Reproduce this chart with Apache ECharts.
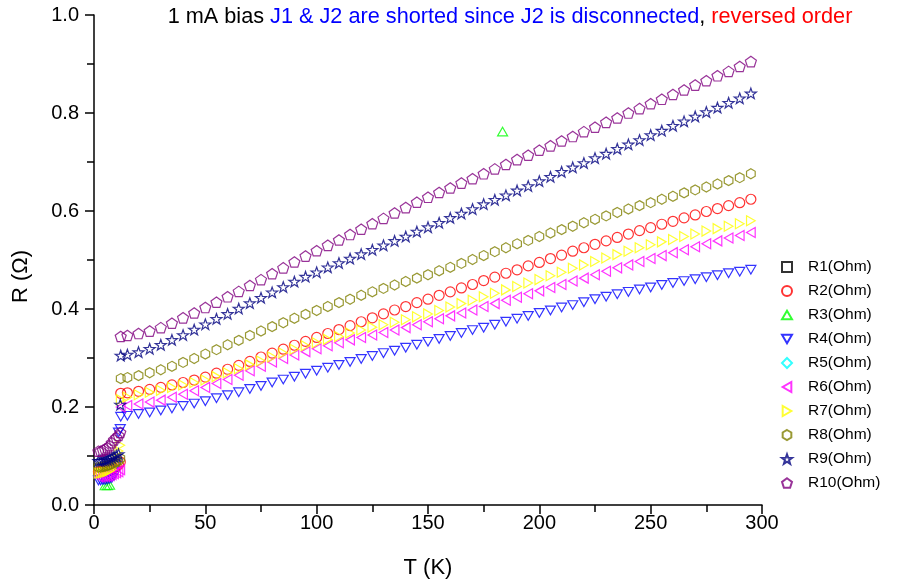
<!DOCTYPE html>
<html><head><meta charset="utf-8">
<script src="https://cdn.jsdelivr.net/npm/echarts@6/dist/echarts.min.js"></script>
<style>html,body{margin:0;padding:0;background:#fff}#c{width:906px;height:584px}</style>
</head><body><div id="c"></div>
<script>
// Temperatures (K)
const tLow = [2,3,4,5,6,7,8,9,10,11,11.8];
const tHigh = [12,15,20,25,30,35,40,45,50,55,60,65,70,75,80,85,90,95,100,105,110,115,120,125,130,135,140,145,150,155,160,165,170,175,180,185,190,195,200,205,210,215,220,225,230,235,240,245,250,255,260,265,270,275,280,285,290,295];

// Resistance values (Ohm)
const r10Low = [0.110,0.110,0.112,0.114,0.117,0.121,0.127,0.133,0.138,0.142,0.148];
const r10High = [0.344,0.346,0.350,0.355,0.362,0.371,0.382,0.392,0.403,0.414,0.425,0.436,0.448,0.460,0.472,0.484,0.496,0.508,0.519,0.530,0.541,0.552,0.563,0.574,0.585,0.596,0.607,0.618,0.628,0.638,0.647,0.657,0.666,0.676,0.686,0.695,0.705,0.714,0.724,0.733,0.743,0.752,0.762,0.771,0.781,0.790,0.800,0.809,0.819,0.828,0.838,0.847,0.857,0.866,0.876,0.885,0.895,0.905];
const r9Low = [0.090,0.090,0.091,0.092,0.093,0.095,0.097,0.099,0.101,0.104,0.205];
const r9High = [0.305,0.307,0.312,0.319,0.327,0.337,0.347,0.358,0.369,0.380,0.390,0.401,0.412,0.423,0.434,0.445,0.456,0.466,0.475,0.485,0.494,0.503,0.512,0.521,0.530,0.539,0.548,0.558,0.567,0.576,0.586,0.595,0.604,0.614,0.623,0.632,0.642,0.651,0.661,0.670,0.680,0.689,0.698,0.708,0.717,0.727,0.736,0.745,0.755,0.764,0.774,0.783,0.793,0.802,0.811,0.821,0.830,0.840];
const r8Low = [0.077,0.077,0.078,0.079,0.080,0.082,0.084,0.086,0.088,0.090,0.095];
const r8High = [0.258,0.260,0.264,0.270,0.276,0.283,0.291,0.299,0.308,0.317,0.327,0.336,0.346,0.355,0.364,0.372,0.381,0.389,0.397,0.405,0.413,0.420,0.428,0.435,0.442,0.449,0.456,0.463,0.470,0.478,0.485,0.493,0.501,0.509,0.517,0.525,0.533,0.540,0.548,0.555,0.562,0.569,0.576,0.583,0.590,0.597,0.604,0.611,0.617,0.624,0.630,0.637,0.643,0.649,0.655,0.662,0.668,0.676];
const r2Low = [0.068,0.068,0.069,0.070,0.071,0.072,0.074,0.076,0.079,0.082,0.088];
const r2High = [0.228,0.229,0.232,0.236,0.240,0.245,0.250,0.255,0.261,0.269,0.277,0.285,0.293,0.302,0.310,0.318,0.326,0.334,0.342,0.350,0.358,0.366,0.374,0.382,0.390,0.398,0.405,0.413,0.420,0.428,0.435,0.443,0.450,0.458,0.465,0.473,0.480,0.488,0.495,0.503,0.510,0.518,0.525,0.532,0.539,0.546,0.553,0.560,0.566,0.573,0.579,0.586,0.592,0.599,0.605,0.611,0.617,0.624];
const r7Low = [0.065,0.065,0.066,0.067,0.068,0.070,0.073,0.080,0.095,0.110,0.122];
const r7High = [0.215,0.220,0.225,0.230,0.234,0.240,0.245,0.250,0.255,0.262,0.270,0.278,0.286,0.294,0.302,0.310,0.318,0.325,0.331,0.338,0.344,0.351,0.357,0.363,0.368,0.373,0.378,0.384,0.390,0.397,0.404,0.411,0.418,0.425,0.432,0.439,0.446,0.453,0.460,0.468,0.475,0.483,0.490,0.497,0.504,0.511,0.518,0.525,0.531,0.537,0.542,0.548,0.553,0.559,0.564,0.569,0.574,0.580];
const r6Low = [0.057,0.057,0.058,0.058,0.059,0.060,0.062,0.064,0.066,0.068,0.072];
const r6High = [0.200,0.203,0.206,0.210,0.214,0.220,0.226,0.233,0.240,0.248,0.256,0.265,0.274,0.283,0.292,0.299,0.306,0.313,0.319,0.325,0.331,0.337,0.342,0.347,0.352,0.357,0.362,0.368,0.374,0.380,0.386,0.392,0.398,0.405,0.411,0.418,0.424,0.431,0.437,0.444,0.450,0.457,0.463,0.470,0.477,0.484,0.490,0.497,0.503,0.509,0.515,0.521,0.527,0.533,0.539,0.545,0.550,0.556];
const r4Low = [0.050,0.050,0.051,0.051,0.052,0.053,0.055,0.060,0.080,0.148,0.155];
const r4High = [0.180,0.182,0.186,0.189,0.193,0.197,0.202,0.207,0.212,0.218,0.224,0.230,0.237,0.243,0.250,0.256,0.262,0.268,0.274,0.280,0.286,0.292,0.298,0.304,0.310,0.315,0.321,0.327,0.333,0.339,0.345,0.351,0.357,0.362,0.368,0.374,0.380,0.386,0.392,0.397,0.403,0.408,0.414,0.420,0.425,0.430,0.435,0.440,0.444,0.449,0.453,0.457,0.461,0.465,0.469,0.473,0.476,0.480];
const r3T = [5,6,7,183.5];
const r3R = [0.040,0.040,0.041,0.762];

const names = ['R1(Ohm)','R2(Ohm)','R3(Ohm)','R4(Ohm)','R5(Ohm)','R6(Ohm)','R7(Ohm)','R8(Ohm)','R9(Ohm)','R10(Ohm)'];
const xTicks = {min:0, max:300, interval:50};
const yTicks = {min:0, max:1, interval:0.2};

function pairs(t, r){ return t.map((v,i)=>[v, r[i]]); }
function both(lo, hi){ return pairs(tLow, lo).concat(pairs(tHigh, hi)); }

const UP = 'path://M0,-8.66 L10,8.66 L-10,8.66 Z';
const DOWN = 'path://M-10,-8.66 L10,-8.66 L0,8.66 Z';
const LEFT = 'path://M8.66,-10 L8.66,10 L-8.66,0 Z';
const RIGHT = 'path://M-8.66,-10 L-8.66,10 L8.66,0 Z';
const HEX = 'path://M0,-10 L8.66,-5 L8.66,5 L0,10 L-8.66,5 L-8.66,-5 Z';
const STAR = 'path://M0,-10 L2.35,-3.24 L9.51,-3.09 L3.80,1.24 L5.88,8.09 L0,4 L-5.88,8.09 L-3.80,1.24 L-9.51,-3.09 L-2.35,-3.24 Z';
const PENT = 'path://M0,-10 L9.51,-3.09 L5.88,8.09 L-5.88,8.09 L-9.51,-3.09 Z';

const styles = [
  {c:'#000000', s:'rect', size:9, data:[]},
  {c:'#ff0000', s:'circle', size:10, data:both(r2Low, r2High)},
  {c:'#00ff00', s:UP, size:10, data:pairs(r3T, r3R)},
  {c:'#0000ff', s:DOWN, size:10, data:both(r4Low, r4High)},
  {c:'#00ffff', s:'diamond', size:11, data:[]},
  {c:'#ff00ff', s:LEFT, size:10, data:both(r6Low, r6High)},
  {c:'#ffff00', s:RIGHT, size:10, data:both(r7Low, r7High)},
  {c:'#808000', s:HEX, size:10, data:both(r8Low, r8High)},
  {c:'#000080', s:STAR, size:11, data:both(r9Low, r9High)},
  {c:'#800080', s:PENT, size:11, data:both(r10Low, r10High)}
];

const FONT = 'Liberation Sans, Arial, sans-serif';
const chart = echarts.init(document.getElementById('c'), null, {renderer:'canvas'});
chart.setOption({
  animation:false,
  backgroundColor:'#fff',
  title:{
    text:'{k|1 mA bias }{b|J1 & J2 are shorted since J2 is disconnected}{k|, }{r|reversed order}',
    left:505, top:1, textAlign:'center',
    textStyle:{fontFamily:FONT, fontWeight:'normal', fontSize:21.7,
      rich:{k:{color:'#000',fontSize:21.7,fontFamily:FONT},b:{color:'#0000ff',fontSize:21.7,fontFamily:FONT},r:{color:'#ff0000',fontSize:21.7,fontFamily:FONT}}}
  },
  grid:{left:94, right:144, top:15, bottom:78},
  legend:{
    orient:'vertical', left:776, top:254, itemWidth:10, itemHeight:10, itemGap:8,
    textStyle:{fontFamily:FONT, fontSize:15.5, color:'#000', padding:[0,0,0,11]},
    data:names
  },
  graphic:[{
    type:'text', left:10, top:250, rotation:Math.PI/2,
    style:{text:'R (Ω)', fontFamily:FONT, fontSize:22, fill:'#000'}
  }],
  xAxis:{
    type:'value', min:xTicks.min, max:xTicks.max, interval:xTicks.interval,
    name:'T (K)', nameLocation:'middle', nameGap:52,
    nameTextStyle:{fontFamily:FONT, fontSize:22, color:'#000'},
    axisLine:{onZero:false, lineStyle:{color:'#000', width:1.5}},
    axisTick:{show:true, inside:false, length:9, lineStyle:{color:'#000', width:1.5}},
    minorTick:{show:true, splitNumber:2, length:7, lineStyle:{color:'#000', width:1.5}},
    axisLabel:{fontFamily:FONT, fontSize:20, color:'#000', margin:8},
    splitLine:{show:false}
  },
  yAxis:{
    type:'value', min:yTicks.min, max:yTicks.max, interval:yTicks.interval,
    axisLine:{show:true, onZero:false, lineStyle:{color:'#000', width:1.5}},
    axisTick:{show:true, inside:false, length:9, lineStyle:{color:'#000', width:1.5}},
    minorTick:{show:true, splitNumber:2, length:7, lineStyle:{color:'#000', width:1.5}},
    axisLabel:{fontFamily:FONT, fontSize:20, color:'#000', margin:15, formatter:v=>v.toFixed(1)},
    splitLine:{show:false}
  },
  series: styles.map((st,i)=>({
    name:names[i], type:'scatter', data:st.data,
    symbol:st.s, symbolSize:st.size, symbolKeepAspect:true,
    itemStyle:{color:'rgba(255,255,255,0)', borderColor:st.c, borderWidth:1.2},
    emphasis:{disabled:true}
  }))
});
</script></body></html>
